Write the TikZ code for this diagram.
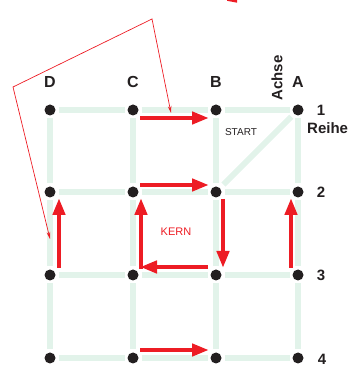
\documentclass[tikz,border=0pt]{standalone}
\usepackage{fontspec}
\setmainfont{Liberation Sans}
\usetikzlibrary{arrows.meta}

\begin{document}
\begin{tikzpicture}[x=1pt,y=1pt,line width=0.4pt]
\definecolor{gridgreen}{RGB}{226,243,234}
\definecolor{moved}{RGB}{237,28,36}
\definecolor{labgrey}{RGB}{35,31,32}
\tikzset{dot/.style={circle,fill=labgrey,minimum size=11pt,inner sep=0pt,outer sep=3pt},rail/.style={draw=gridgreen,line width=6pt},move/.style={draw=moved,line width=4.5pt,-{Triangle[length=17pt,width=12pt]}},jump/.style={draw=moved,line width=0.7pt,{Stealth[length=7pt,width=3.5pt]}-{Stealth[length=7pt,width=3.5pt]}},collab/.style={font=\fontsize{16}{16}\selectfont\bfseries,text=labgrey},rowlab/.style={font=\fontsize{15}{15}\selectfont\bfseries,text=labgrey}}
\useasboundingbox (0,0) rectangle (349,374);
\clip (0,0) rectangle (349,374);
% grid points
\node[dot] (D1) at (50,264) {};
\node[dot] (C1) at (133,264) {};
\node[dot] (B1) at (216,264) {};
\node[dot] (A1) at (298,264) {};
\node[dot] (D2) at (50,182) {};
\node[dot] (C2) at (133,182) {};
\node[dot] (B2) at (216,182) {};
\node[dot] (A2) at (298,182) {};
\node[dot] (D3) at (50,99) {};
\node[dot] (C3) at (133,99) {};
\node[dot] (B3) at (216,99) {};
\node[dot] (A3) at (298,99) {};
\node[dot] (D4) at (50,16) {};
\node[dot] (C4) at (133,16) {};
\node[dot] (B4) at (216,16) {};
\node[dot] (A4) at (298,16) {};
% green rails
\draw[rail] (D1) -- (C1);
\draw[rail] (C1) -- (B1);
\draw[rail] (B1) -- (A1);
\draw[rail] (D2) -- (C2);
\draw[rail] (C2) -- (B2);
\draw[rail] (B2) -- (A2);
\draw[rail] (D3) -- (C3);
\draw[rail] (C3) -- (B3);
\draw[rail] (B3) -- (A3);
\draw[rail] (D4) -- (C4);
\draw[rail] (C4) -- (B4);
\draw[rail] (B4) -- (A4);
\draw[rail] (D1) -- (D2);
\draw[rail] (D2) -- (D3);
\draw[rail] (D3) -- (D4);
\draw[rail] (C1) -- (C2);
\draw[rail] (C2) -- (C3);
\draw[rail] (C3) -- (C4);
\draw[rail] (B1) -- (B2);
\draw[rail] (B2) -- (B3);
\draw[rail] (B3) -- (B4);
\draw[rail] (A1) -- (A2);
\draw[rail] (A2) -- (A3);
\draw[rail] (A3) -- (A4);
\draw[rail,shorten <=1pt,shorten >=2pt] (A1) -- (B2);
% labels
\node[collab] (labD) at (50,292) {D};
\node[collab] (labC) at (133,292) {C};
\node[collab] (labB) at (216,292) {B};
\node[collab] (labA) at (298,292) {A};
\node[rowlab,rotate=90] (achse) at (277,296) {Achse};
\node[rowlab] (lab1) at (321,264) {1};
\node[rowlab] (lab2) at (321,182) {2};
\node[rowlab] (lab3) at (321,99) {3};
\node[rowlab] (lab4) at (322,15) {4};
\node[rowlab,anchor=west,inner sep=0pt] (reihe) at (307,246) {Reihe};
\node[font=\fontsize{10}{10}\selectfont,text=labgrey] (start) at (241,242) {START};
\node[font=\fontsize{11}{11}\selectfont,text=moved] (kern) at (176,142) {KERN};
% moves
\draw[move] ([xshift=7pt,yshift=-8pt]C1.center) -- ([xshift=-7pt,yshift=-8pt]B1.center);
\draw[move] ([xshift=7pt,yshift=7pt]C2.center) -- ([xshift=-7pt,yshift=7pt]B2.center);
\draw[move] ([xshift=7pt,yshift=-7pt]B2.center) -- ([xshift=7pt,yshift=7pt]B3.center);
\draw[move] ([xshift=-8pt,yshift=8pt]B3.center) -- ([xshift=7pt,yshift=8pt]C3.center);
\draw[move] ([xshift=8pt,yshift=5.8pt]C3.center) -- ([xshift=8pt,yshift=-6pt]C2.center);
\draw[move] ([xshift=9pt,yshift=7pt]D3.center) -- ([xshift=9pt,yshift=-6pt]D2.center);
\draw[move] ([xshift=-7pt,yshift=7pt]A3.center) -- ([xshift=-7pt,yshift=-6pt]A2.center);
\draw[move] ([xshift=7pt,yshift=8pt]C4.center) -- ([xshift=-7pt,yshift=8pt]B4.center);
% jump line
\coordinate (jumpa) at (50,135);
\coordinate (jumpb) at (13,287);
\coordinate (jumpc) at (152,355);
\coordinate (jumpd) at (171,261);
\draw[jump] (jumpa) -- (jumpb) -- (jumpc) -- (jumpd);
\fill[moved] (227,374) -- (237,374) -- (237,371.3) -- (227,373.2) -- cycle;
\end{tikzpicture}
\end{document}
